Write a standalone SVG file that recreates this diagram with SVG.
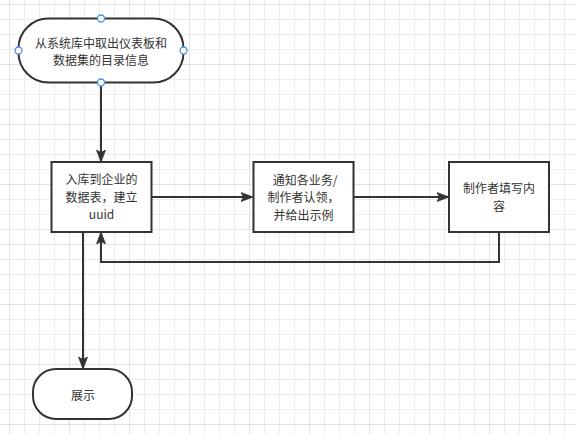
<svg xmlns="http://www.w3.org/2000/svg" width="576" height="434" viewBox="0 0 576 434">
  <style>
    .shape { fill: #ffffff; stroke: #333333; stroke-width: 2; }
    .edge { fill: none; stroke: #333333; stroke-width: 2; }
    .label { font-family: "Microsoft YaHei", "Noto Sans CJK SC", "Liberation Sans", sans-serif; font-size: 12px; fill: #333333; text-anchor: middle; }
    .handle { fill: #ffffff; stroke: #4a90e2; stroke-width: 1.3; }
  </style>
  <defs>
    <pattern id="minor" x="9" y="4" width="15" height="15" patternUnits="userSpaceOnUse">
      <path d="M0.5,0 V15 M0,0.5 H15" stroke="#ececec" stroke-width="1" fill="none"/>
    </pattern>
    <pattern id="major" x="9" y="4" width="60" height="60" patternUnits="userSpaceOnUse">
      <path d="M0.5,0 V60 M0,0.5 H60" stroke="#e2e2e2" stroke-width="1" fill="none"/>
    </pattern>
    <marker id="arrow" viewBox="0 0 12 10" refX="11" refY="5" markerWidth="12" markerHeight="10" markerUnits="userSpaceOnUse" orient="auto">
      <path d="M0,0.5 L12,5 L0,9.5 L2.5,5 Z" fill="#333333" stroke="#333333" stroke-width="0.8"/>
    </marker>
  </defs>
  <rect width="576" height="434" fill="#ffffff"/>
  <rect width="576" height="434" fill="url(#minor)"/>
  <rect width="576" height="434" fill="url(#major)"/>

  <g id="connectors">
    <path class="edge" d="M101,82.5 V161" marker-end="url(#arrow)"/>
    <path class="edge" d="M152,197 H252" marker-end="url(#arrow)"/>
    <path class="edge" d="M354,197 H448" marker-end="url(#arrow)"/>
    <path class="edge" d="M499,232 V262 H101 V233" marker-end="url(#arrow)"/>
    <path class="edge" d="M83,232 V368" marker-end="url(#arrow)"/>
  </g>

  <g id="start">
    <rect class="shape" x="18.5" y="18.5" width="165" height="64" rx="30" ry="30"/>
    <text class="label"><tspan x="101" y="47.5">从系统库中取出仪表板和</tspan><tspan x="101" dy="17.5">数据集的目录信息</tspan></text>
    <circle class="handle" cx="101" cy="18.5" r="3.5"/>
    <circle class="handle" cx="101" cy="82.5" r="3.5"/>
    <circle class="handle" cx="18.5" cy="50.5" r="3.5"/>
    <circle class="handle" cx="183.5" cy="50.5" r="3.5"/>
  </g>

  <g id="store">
    <rect class="shape" x="51.5" y="162" width="100" height="70"/>
    <text class="label"><tspan x="101.5" y="184.4">入库到企业的</tspan><tspan x="101.5" dy="17.5">数据表，建立</tspan><tspan x="101.5" dy="17.5">uuid</tspan></text>
  </g>

  <g id="notify">
    <rect class="shape" x="253.5" y="162" width="100" height="70"/>
    <text class="label"><tspan x="305" y="184.7">通知各业务/</tspan><tspan x="303.5" dy="17.5">制作者认领，</tspan><tspan x="303.5" dy="17.5">并给出示例</tspan></text>
  </g>

  <g id="fill">
    <rect class="shape" x="449" y="162" width="100" height="70"/>
    <text class="label"><tspan x="499" y="193">制作者填写内</tspan><tspan x="499" dy="17.5">容</tspan></text>
  </g>

  <g id="show">
    <rect class="shape" x="33" y="369" width="99" height="50" rx="23" ry="23"/>
    <text class="label" x="83" y="399.6">展示</text>
  </g>
</svg>
